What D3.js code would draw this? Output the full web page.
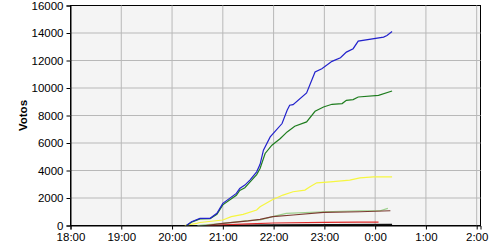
<!DOCTYPE html>
<html>
<head>
<meta charset="utf-8">
<script src="https://cdn.jsdelivr.net/npm/d3@7"></script>
<style>
  body { margin: 0; background: #fff; }
  text { font-family: "Liberation Sans", Arial, sans-serif; }
</style>
</head>
<body>
<svg width="500" height="250"></svg>
<script>
// tick labels
const hourTicks = ["18:00", "19:00", "20:00", "21:00", "22:00", "23:00", "0:00", "1:00", "2:00"];
const voteTicks = [0, 2000, 4000, 6000, 8000, 10000, 12000, 14000, 16000];

// each series: times (clock) and votes
const blueTimes = ["20:17", "20:23", "20:33", "20:45", "20:53", "21:00", "21:08", "21:16", "21:20", "21:26", "21:32", "21:40", "21:44", "21:48", "21:56", "22:10", "22:16", "22:19", "22:23", "22:39", "22:49", "22:57", "23:09", "23:19", "23:26", "23:34", "23:40", "0:10", "0:14", "0:20"];
const blueVotes = [0, 276, 522, 522, 885, 1611, 1974, 2336, 2699, 2939, 3301, 3904, 4450, 5478, 6443, 7416, 8381, 8744, 8794, 9636, 11160, 11406, 11936, 12205, 12611, 12858, 13409, 13699, 13823, 14113];

const greenTimes = ["20:17", "20:23", "20:33", "20:45", "20:53", "21:00", "21:08", "21:16", "21:20", "21:26", "21:32", "21:40", "21:44", "21:50", "21:58", "22:08", "22:16", "22:25", "22:39", "22:49", "22:59", "23:09", "23:21", "23:26", "23:34", "23:40", "0:04", "0:20"];
const greenVotes = [0, 240, 480, 490, 820, 1500, 1850, 2200, 2550, 2750, 3150, 3700, 4150, 5239, 5841, 6327, 6806, 7220, 7532, 8308, 8620, 8816, 8867, 9106, 9157, 9346, 9469, 9781];

const yellowTimes = ["20:15", "20:29", "20:33", "21:00", "21:10", "21:24", "21:40", "21:44", "21:58", "22:11", "22:23", "22:37", "22:43", "22:51", "23:07", "23:30", "23:42", "23:58", "0:20"];
const yellowVotes = [0, 160, 218, 400, 640, 813, 1125, 1364, 1850, 2213, 2453, 2576, 2815, 3106, 3178, 3301, 3468, 3541, 3541];

const lightGreenTimes = ["20:30", "21:00", "21:30", "21:44", "21:59", "22:15", "22:59", "23:42", "0:06", "0:15"];
const lightGreenVotes = [0, 150, 350, 400, 640, 885, 1001, 1074, 1074, 1248];

const brownTimes = ["20:40", "21:00", "21:30", "21:44", "21:59", "22:23", "22:59", "23:42", "0:18"];
const brownVotes = [0, 150, 330, 450, 640, 762, 958, 1001, 1074];

const redTimes = ["20:40", "21:30", "22:00", "23:00", "23:40", "0:04"];
const redVotes = [0, 120, 180, 230, 250, 250];

const blackTimes = ["20:30", "22:00", "0:20"];
const blackVotes = [0, 40, 80];

// minutes after 18:00, hours after midnight wrap to the next day
function toMinutes(s) {
  const [h, m] = s.split(":").map(Number);
  return (h < 12 ? h + 24 : h) * 60 + m - 18 * 60;
}

const series = [
  { times: blackTimes, votes: blackVotes, color: "#111111" },
  { times: redTimes, votes: redVotes, color: "#dd2a2a" },
  { times: lightGreenTimes, votes: lightGreenVotes, color: "#9cd08c" },
  { times: brownTimes, votes: brownVotes, color: "#7a3a30" },
  { times: yellowTimes, votes: yellowVotes, color: "#f6f640" },
  { times: greenTimes, votes: greenVotes, color: "#1f7d1f" },
  { times: blueTimes, votes: blueVotes, color: "#2222cc" }
];

const margin = { left: 70.5, top: 5.5, right: 19.5, bottom: 24.5 };
const width = 500, height = 250;

const svg = d3.select("svg");

const x = d3.scaleLinear()
  .domain([0, 8 * 60 + 4.5])
  .range([margin.left, width - margin.right]);

const y = d3.scaleLinear()
  .domain([0, 16000])
  .range([height - margin.bottom, margin.top]);

// plot background
svg.append("rect")
  .attr("x", margin.left)
  .attr("y", margin.top)
  .attr("width", width - margin.left - margin.right)
  .attr("height", height - margin.top - margin.bottom)
  .attr("fill", "#f4f4f4")
  .attr("stroke", "#000");

// grid lines
svg.append("g")
  .selectAll("line")
  .data(hourTicks.slice(1))
  .join("line")
  .attr("x1", d => x(toMinutes(d)))
  .attr("x2", d => x(toMinutes(d)))
  .attr("y1", margin.top)
  .attr("y2", height - margin.bottom)
  .attr("stroke", "#b8b8b8");

svg.append("g")
  .selectAll("line")
  .data(voteTicks.slice(1, -1))
  .join("line")
  .attr("x1", margin.left)
  .attr("x2", width - margin.right)
  .attr("y1", d => y(d))
  .attr("y2", d => y(d))
  .attr("stroke", "#b8b8b8");

// lines
const line = d3.line()
  .x(d => x(d.t))
  .y(d => y(d.v));

svg.append("g")
  .selectAll("path")
  .data(series)
  .join("path")
  .attr("fill", "none")
  .attr("stroke", d => d.color)
  .attr("stroke-width", 1.2)
  .attr("d", s => line(s.times.map((t, i) => ({ t: toMinutes(t), v: s.votes[i] }))));

// axes
const xAxis = d3.axisBottom(x)
  .tickValues(hourTicks.map(toMinutes))
  .tickFormat((d, i) => hourTicks[i])
  .tickSize(4)
  .tickPadding(3);

const yAxis = d3.axisLeft(y)
  .tickValues(voteTicks)
  .tickFormat(d => d)
  .tickSize(4)
  .tickPadding(3);

const gx = svg.append("g")
  .attr("transform", `translate(0,${height - margin.bottom})`)
  .call(xAxis);

const gy = svg.append("g")
  .attr("transform", `translate(${margin.left},0)`)
  .call(yAxis);

[gx, gy].forEach(g => {
  g.select(".domain").attr("stroke", "#000");
  g.selectAll(".tick line").attr("stroke", "#000");
  g.selectAll("text")
    .attr("fill", "#000")
    .style("font-size", "11.5px")
    .style("font-family", "'Liberation Sans', Arial, sans-serif");
});

// axis title
svg.append("text")
  .attr("transform", `translate(27,${(margin.top + height - margin.bottom) / 2}) rotate(-90)`)
  .attr("text-anchor", "middle")
  .style("font-size", "11.5px")
  .style("font-weight", "bold")
  .text("Votos");
</script>
</body>
</html>
